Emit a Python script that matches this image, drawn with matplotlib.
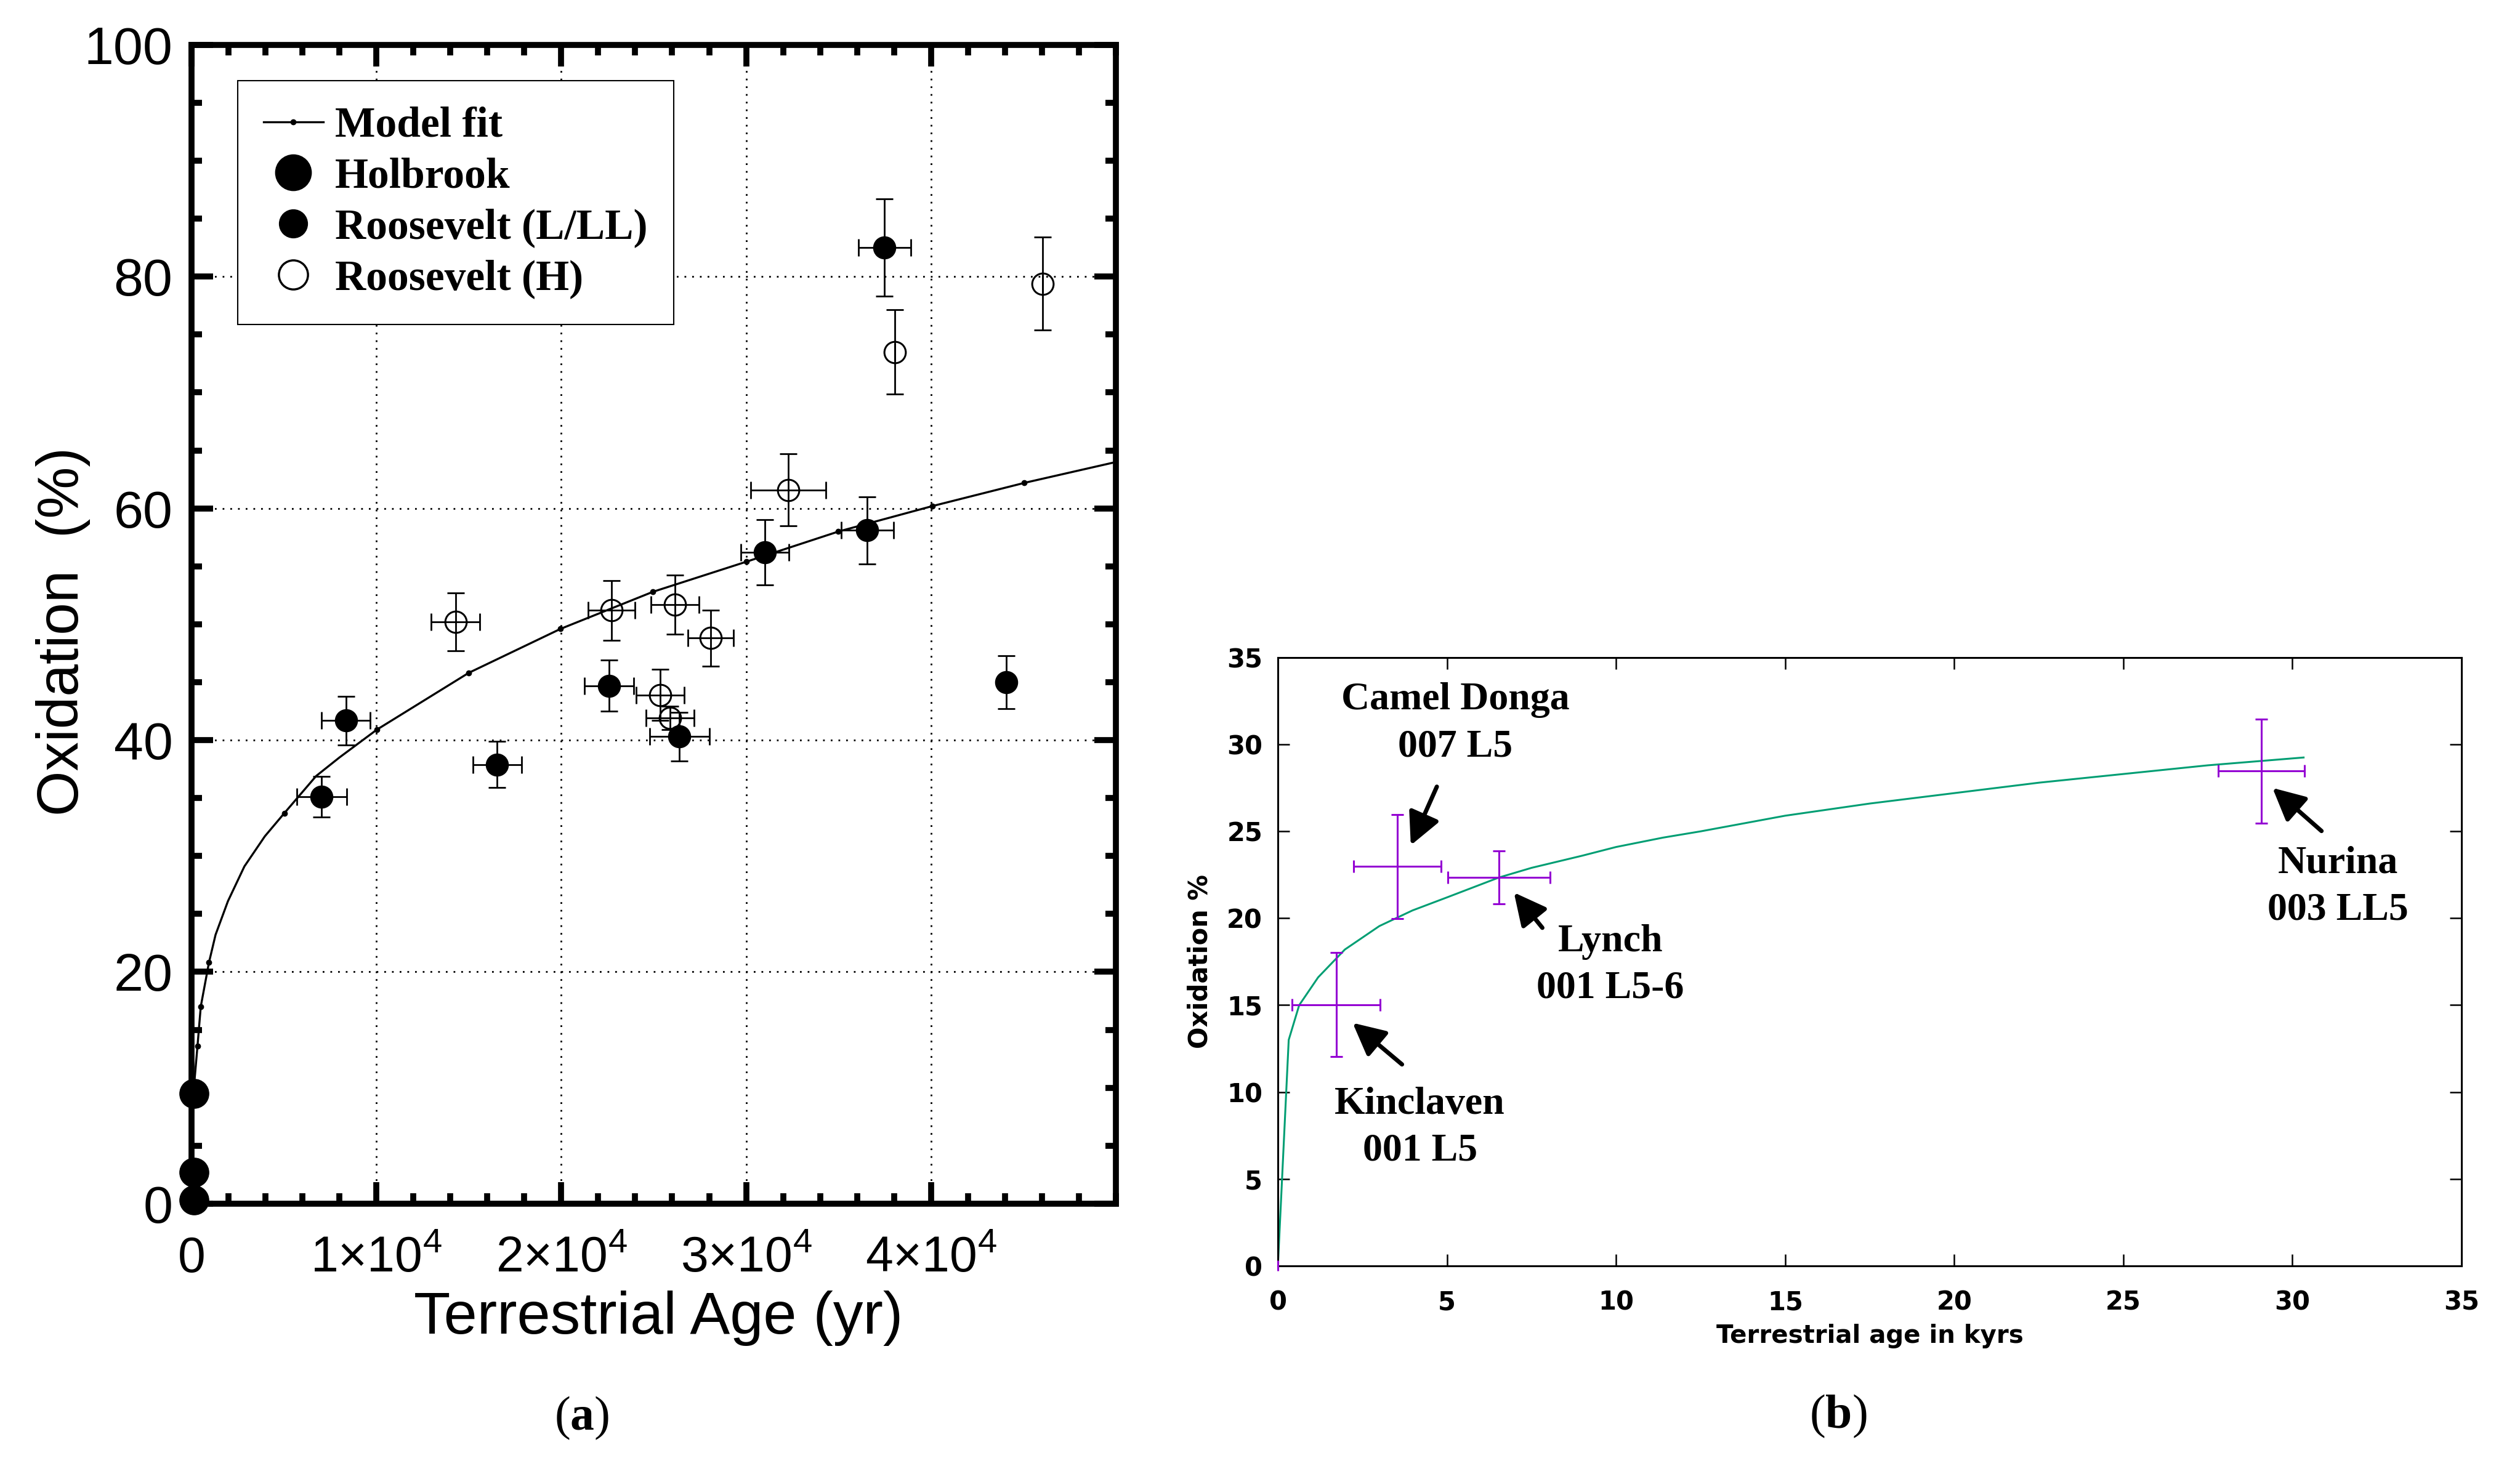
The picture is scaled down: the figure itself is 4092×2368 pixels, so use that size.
import matplotlib
matplotlib.use('Agg')
import matplotlib.pyplot as plt
from matplotlib.lines import Line2D
from matplotlib.ticker import MultipleLocator

plt.rcParams['mathtext.fontset'] = 'custom'
plt.rcParams['mathtext.rm'] = 'Liberation Sans'
plt.rcParams['mathtext.bf'] = 'Liberation Serif:bold'

# ---------------- panel (a): oxidation vs terrestrial age (yr)
model_t = [0, 100, 323, 500, 943, 1300, 1970, 2860, 3967, 5023, 6740, 8000,
           10023, 14990, 19960, 24960, 30020, 34990, 40080, 45050, 50000]
model_y = [0, 9.5, 13.6, 17.0, 20.8, 23.2, 26.1, 29.1, 31.7, 33.7, 36.9, 38.5,
           40.9, 45.8, 49.6, 52.8, 55.4, 58.0, 60.2, 62.2, 64.0]
model_dots = [2, 3, 4, 9, 12, 13, 14, 15, 16, 17, 18, 19]

holbrook_t = [150, 150, 150]
holbrook_y = [9.5, 2.7, 0.3]

ll_t = [7043, 8357, 16533, 22580, 26400, 31017, 36553, 37490, 44067]
ll_y = [35.1, 41.7, 37.9, 44.7, 40.3, 56.2, 58.1, 82.5, 45.0]
ll_terr = [1350, 1317, 1310, 1324, 1613, 1302, 1413, 1429, 0]
ll_yerr = [1.75, 2.1, 2.0, 2.2, 2.1, 2.8, 2.9, 4.2, 2.3]

h_t = [14277, 22730, 25363, 25883, 26150, 28087, 32283, 38027, 46027]
h_y = [50.2, 51.2, 43.9, 41.9, 51.7, 48.8, 61.6, 73.5, 79.4]
h_terr = [1317, 1263, 1302, 1310, 1310, 1227, 2040, 0, 0]
h_yerr = [2.49, 2.58, 2.2, 1.0, 2.55, 2.4, 3.1, 3.65, 4.0]

xticks_a = [0, 10000, 20000, 30000, 40000]
xticklabels_a = ['0', '1×10$^{4}$', '2×10$^{4}$', '3×10$^{4}$', '4×10$^{4}$']
yticks_a = [0, 20, 40, 60, 80, 100]

# ---------------- panel (b): oxidation vs terrestrial age (kyr)
curve_t = [0, 0.32, 0.63, 1.19, 1.98, 3.0, 3.98, 5.0, 6.53, 7.5, 9.0, 10,
           11.39, 12.5, 15, 17.5, 20, 22.5, 25, 27.5, 30.33]
curve_y = [0, 13.0, 15.0, 16.6, 18.2, 19.55, 20.45, 21.2, 22.34, 22.9, 23.6,
           24.1, 24.64, 25.0, 25.9, 26.6, 27.2, 27.8, 28.3, 28.8, 29.25]

met_names = ['Kinclaven\n001 L5', 'Camel Donga\n007 L5',
             'Lynch\n001 L5-6', 'Nurina\n003 LL5']
met_t = [1.72, 3.53, 6.53, 29.08]
met_y = [15.03, 22.98, 22.34, 28.47]
met_terr = [1.31, 1.29, 1.51, 1.28]
met_yerr = [3.0, 3.0, 1.52, 3.0]

ticks_b = [0, 5, 10, 15, 20, 25, 30, 35]

sans_a = 'Liberation Sans'
serif = 'Liberation Serif'
sans_b = ['DejaVu Sans Condensed', 'DejaVu Sans']

fig = plt.figure(figsize=(40.92, 23.68), dpi=100)

# ================= panel (a)
ax = fig.add_axes([0.0760, 0.1745, 0.3668, 0.7947])
ax.set_xlim(0, 50000)
ax.set_ylim(0, 100)

ax.grid(True, which='major', color='black', lw=2, ls=(0, (1, 3.5)))
ax.set_axisbelow(True)

ax.plot(model_t, model_y, color='black', lw=2.4, marker='o', ms=6,
        markevery=model_dots, zorder=3)

eb = dict(fmt='none', ecolor='black', elinewidth=2, capsize=10, capthick=2, zorder=3)
ax.errorbar(ll_t, ll_y, xerr=ll_terr, yerr=ll_yerr, **eb)
ax.errorbar(h_t, h_y, xerr=h_terr, yerr=h_yerr, **eb)

ax.plot(ll_t, ll_y, 'o', color='black', ms=26, zorder=4)
ax.plot(h_t, h_y, 'o', mfc='none', mec='black', mew=2.2, ms=25, zorder=4)
ax.plot(holbrook_t, holbrook_y, 'o', color='black', ms=34, zorder=6, clip_on=False)

ax.set_xticks(xticks_a)
ax.set_xticklabels(xticklabels_a, fontfamily=sans_a, fontsize=58)
ax.set_yticks(yticks_a)
ax.set_yticklabels([str(v) for v in yticks_a], fontfamily=sans_a, fontsize=62)
ax.xaxis.set_minor_locator(MultipleLocator(2000))
ax.yaxis.set_minor_locator(MultipleLocator(5))
ax.tick_params(which='both', direction='in', top=True, right=True, width=7)
ax.tick_params(which='major', length=25)
ax.tick_params(which='minor', length=12)
ax.tick_params(axis='x', which='major', pad=80)
ax.tick_params(axis='y', which='major', pad=22)
for lab in ax.get_xticklabels():
    lab.set_verticalalignment('baseline')
for sp in ax.spines.values():
    sp.set_linewidth(7)

ax.set_xlabel('Terrestrial Age (yr)', fontfamily=sans_a, fontsize=70, va='center')
ax.xaxis.set_label_coords(0.505, -0.099)
ax.set_ylabel('Oxidation  (%)', fontfamily=sans_a, fontsize=68, va='center')
ax.yaxis.set_label_coords(-0.139, 0.494)

handles = [
    Line2D([], [], color='black', lw=2.4, marker='o', ms=6),
    Line2D([], [], ls='none', marker='o', ms=42, color='black'),
    Line2D([], [], ls='none', marker='o', ms=33, color='black'),
    Line2D([], [], ls='none', marker='o', ms=34, mfc='none', mec='black', mew=2.5),
]
labels = ['Model fit', 'Holbrook', 'Roosevelt (L/LL)', 'Roosevelt (H)']
leg = ax.legend(handles, labels, loc='upper left', bbox_to_anchor=(0.05, 0.969),
                borderaxespad=0, numpoints=1, handlelength=1.4, handletextpad=0.28,
                labelspacing=0.27, borderpad=0.6, fancybox=False, framealpha=1,
                edgecolor='black', prop={'family': serif, 'weight': 'bold', 'size': 50})
leg.get_frame().set_linewidth(1.5)

# ================= panel (b)
bx = fig.add_axes([0.5071, 0.1318, 0.4697, 0.4172])
bx.set_xlim(0, 35)
bx.set_ylim(0, 35)

bx.plot(curve_t, curve_y, color='#009e73', lw=2.2, zorder=2)
bx.errorbar(met_t, met_y, xerr=met_terr, yerr=met_yerr, fmt='none',
            ecolor='#9400d3', elinewidth=2.2, capsize=7, capthick=2.2, zorder=3)
bx.errorbar([0], [0], yerr=[0.3], fmt='none', ecolor='#9400d3',
            elinewidth=2.2, capsize=0, zorder=3, clip_on=False)

text_pos = [(4.2, 7.95), (5.25, 31.2), (9.83, 17.3), (31.35, 21.8)]
arrow_tail = [(3.67, 11.59), (4.70, 27.57), (7.82, 19.45), (30.86, 25.02)]
arrow_tip = [(2.21, 13.98), (3.93, 24.2), (6.98, 21.48), (29.41, 27.5)]
for name, tp, tail, tip in zip(met_names, text_pos, arrow_tail, arrow_tip):
    bx.text(tp[0], tp[1], name, ha='center', va='center', multialignment='center',
            fontfamily=serif, fontweight='bold', fontsize=46, linespacing=1.4)
    bx.annotate('', xy=tip, xytext=tail,
                arrowprops=dict(arrowstyle='-|>,head_length=0.8,head_width=0.4',
                                mutation_scale=40, lw=5, color='black',
                                shrinkA=0, shrinkB=0))

bx.set_xticks(ticks_b)
bx.set_yticks(ticks_b)
bx.set_xticklabels([str(v) for v in ticks_b], fontfamily=sans_b, fontweight='bold', fontsize=30)
bx.set_yticklabels([str(v) for v in ticks_b], fontfamily=sans_b, fontweight='bold', fontsize=30)
bx.tick_params(direction='in', top=True, right=True, length=14, width=1.8)
bx.tick_params(axis='x', pad=28)
bx.tick_params(axis='y', pad=18)
for sp in bx.spines.values():
    sp.set_linewidth(2.2)

bx.set_xlabel('Terrestrial age in kyrs', fontfamily=sans_b, fontweight='bold',
              fontsize=29, va='center')
bx.xaxis.set_label_coords(0.5, -0.116)
bx.set_ylabel('Oxidation %', fontfamily=sans_b, fontweight='bold', fontsize=30, va='center')
bx.yaxis.set_label_coords(-0.066, 0.5)

# panel letters
fig.text(0.2309, 0.0274, '($\\mathbf{a}$)', fontfamily=serif, fontsize=56,
         ha='center', va='center')
fig.text(0.7295, 0.0287, '($\\mathbf{b}$)', fontfamily=serif, fontsize=56,
         ha='center', va='center')

fig.savefig('out.png', dpi=100)
